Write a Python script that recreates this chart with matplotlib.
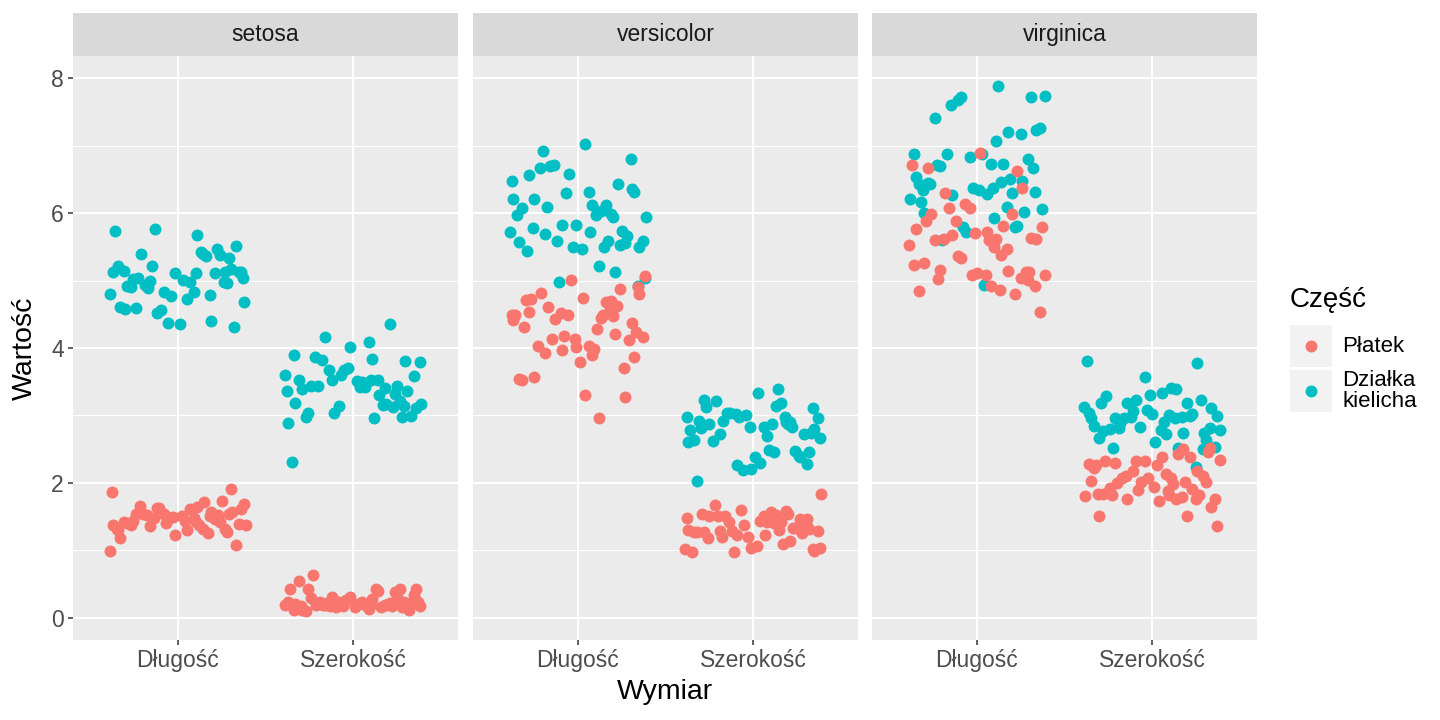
import numpy as np
import matplotlib.pyplot as plt
from matplotlib.patches import Rectangle

plt.rcParams['font.family'] = ['Liberation Sans', 'DejaVu Sans']

species = ['setosa', 'versicolor', 'virginica']
dims = ['Długość', 'Szerokość']
parts = ['Płatek', 'Działka\nkielicha']
colors = ['#F8766D', '#00BFC4']

# iris data, 50 rows per species
sepal_length = [
    5.1, 4.9, 4.7, 4.6, 5.0, 5.4, 4.6, 5.0, 4.4, 4.9, 5.4, 4.8, 4.8, 4.3, 5.8, 5.7, 5.4, 5.1, 5.7, 5.1,
    5.4, 5.1, 4.6, 5.1, 4.8, 5.0, 5.0, 5.2, 5.2, 4.7, 4.8, 5.4, 5.2, 5.5, 4.9, 5.0, 5.5, 4.9, 4.4, 5.1,
    5.0, 4.5, 4.4, 5.0, 5.1, 4.8, 5.1, 4.6, 5.3, 5.0,
    7.0, 6.4, 6.9, 5.5, 6.5, 5.7, 6.3, 4.9, 6.6, 5.2, 5.0, 5.9, 6.0, 6.1, 5.6, 6.7, 5.6, 5.8, 6.2, 5.6,
    5.9, 6.1, 6.3, 6.1, 6.4, 6.6, 6.8, 6.7, 6.0, 5.7, 5.5, 5.5, 5.8, 6.0, 5.4, 6.0, 6.7, 6.3, 5.6, 5.5,
    5.5, 6.1, 5.8, 5.0, 5.6, 5.7, 5.7, 6.2, 5.1, 5.7,
    6.3, 5.8, 7.1, 6.3, 6.5, 7.6, 4.9, 7.3, 6.7, 7.2, 6.5, 6.4, 6.8, 5.7, 5.8, 6.4, 6.5, 7.7, 7.7, 6.0,
    6.9, 5.6, 7.7, 6.3, 6.7, 7.2, 6.2, 6.1, 6.4, 7.2, 7.4, 7.9, 6.4, 6.3, 6.1, 7.7, 6.3, 6.4, 6.0, 6.9,
    6.7, 6.9, 5.8, 6.8, 6.7, 6.7, 6.3, 6.5, 6.2, 5.9]
sepal_width = [
    3.5, 3.0, 3.2, 3.1, 3.6, 3.9, 3.4, 3.4, 2.9, 3.1, 3.7, 3.4, 3.0, 3.0, 4.0, 4.4, 3.9, 3.5, 3.8, 3.8,
    3.4, 3.7, 3.6, 3.3, 3.4, 3.0, 3.4, 3.5, 3.4, 3.2, 3.1, 3.4, 4.1, 4.2, 3.1, 3.2, 3.5, 3.6, 3.0, 3.4,
    3.5, 2.3, 3.2, 3.5, 3.8, 3.0, 3.8, 3.2, 3.7, 3.3,
    3.2, 3.2, 3.1, 2.3, 2.8, 2.8, 3.3, 2.4, 2.9, 2.7, 2.0, 3.0, 2.2, 2.9, 2.9, 3.1, 3.0, 2.7, 2.2, 2.5,
    3.2, 2.8, 2.5, 2.8, 2.9, 3.0, 2.8, 3.0, 2.9, 2.6, 2.4, 2.4, 2.7, 2.7, 3.0, 3.4, 3.1, 2.3, 3.0, 2.5,
    2.6, 3.0, 2.6, 2.3, 2.7, 3.0, 2.9, 2.9, 2.5, 2.8,
    3.3, 2.7, 3.0, 2.9, 3.0, 3.0, 2.5, 2.9, 2.5, 3.6, 3.2, 2.7, 3.0, 2.5, 2.8, 3.2, 3.0, 3.8, 2.6, 2.2,
    3.2, 2.8, 2.8, 2.7, 3.3, 3.2, 2.8, 3.0, 2.8, 3.0, 2.8, 3.8, 2.8, 2.8, 2.6, 3.0, 3.4, 3.1, 3.0, 3.1,
    3.1, 3.1, 2.7, 3.2, 3.3, 3.0, 2.5, 3.0, 3.4, 3.0]
petal_length = [
    1.4, 1.4, 1.3, 1.5, 1.4, 1.7, 1.4, 1.5, 1.4, 1.5, 1.5, 1.6, 1.4, 1.1, 1.2, 1.5, 1.3, 1.4, 1.7, 1.5,
    1.7, 1.5, 1.0, 1.7, 1.9, 1.6, 1.6, 1.5, 1.4, 1.6, 1.6, 1.5, 1.5, 1.4, 1.5, 1.2, 1.3, 1.4, 1.3, 1.5,
    1.3, 1.3, 1.3, 1.6, 1.9, 1.4, 1.6, 1.4, 1.5, 1.4,
    4.7, 4.5, 4.9, 4.0, 4.6, 4.5, 4.7, 3.3, 4.6, 3.9, 3.5, 4.2, 4.0, 4.7, 3.6, 4.4, 4.5, 4.1, 4.5, 3.9,
    4.8, 4.0, 4.9, 4.7, 4.3, 4.4, 4.8, 5.0, 4.5, 3.5, 3.8, 3.7, 3.9, 5.1, 4.5, 4.5, 4.7, 4.4, 4.1, 4.0,
    4.4, 4.6, 4.0, 3.3, 4.2, 4.2, 4.2, 4.3, 3.0, 4.1,
    6.0, 5.1, 5.9, 5.6, 5.8, 6.6, 4.5, 6.3, 5.8, 6.1, 5.1, 5.3, 5.5, 5.0, 5.1, 5.3, 5.5, 6.7, 6.9, 5.0,
    5.7, 4.9, 6.7, 4.9, 5.7, 6.0, 4.8, 4.9, 5.6, 5.8, 6.1, 6.4, 5.6, 5.1, 5.6, 6.1, 5.6, 5.5, 4.8, 5.4,
    5.6, 5.1, 5.1, 5.9, 5.7, 5.2, 5.0, 5.2, 5.4, 5.1]
petal_width = [
    0.2, 0.2, 0.2, 0.2, 0.2, 0.4, 0.3, 0.2, 0.2, 0.1, 0.2, 0.2, 0.1, 0.1, 0.2, 0.4, 0.4, 0.3, 0.3, 0.3,
    0.2, 0.4, 0.2, 0.5, 0.2, 0.2, 0.4, 0.2, 0.2, 0.2, 0.2, 0.4, 0.1, 0.2, 0.2, 0.2, 0.2, 0.1, 0.2, 0.2,
    0.3, 0.3, 0.2, 0.6, 0.4, 0.3, 0.2, 0.2, 0.2, 0.2,
    1.4, 1.5, 1.5, 1.3, 1.5, 1.3, 1.6, 1.0, 1.3, 1.4, 1.0, 1.5, 1.0, 1.4, 1.3, 1.4, 1.5, 1.0, 1.5, 1.1,
    1.8, 1.3, 1.5, 1.2, 1.3, 1.4, 1.4, 1.7, 1.5, 1.0, 1.1, 1.0, 1.2, 1.6, 1.5, 1.6, 1.5, 1.3, 1.3, 1.3,
    1.2, 1.4, 1.2, 1.0, 1.3, 1.2, 1.3, 1.3, 1.1, 1.3,
    2.5, 1.9, 2.1, 1.8, 2.2, 2.1, 1.7, 1.8, 1.8, 2.5, 2.0, 1.9, 2.1, 2.0, 2.4, 2.3, 1.8, 2.2, 2.3, 1.5,
    2.3, 2.0, 2.0, 1.8, 2.1, 1.8, 1.8, 1.8, 2.1, 1.6, 1.9, 2.0, 2.2, 1.5, 1.4, 2.3, 2.4, 1.8, 1.8, 2.1,
    2.4, 2.3, 1.9, 2.3, 2.5, 2.3, 1.9, 2.0, 2.3, 1.8]

# horizontal jitter offsets
jit_a = [
    -0.31, 0.12, 0.27, -0.08, 0.35, -0.22, 0.04, 0.18, -0.37, 0.29,
    -0.14, 0.07, -0.26, 0.33, -0.02, 0.21, -0.34, 0.10, 0.38, -0.18,
    0.25, -0.05, -0.39, 0.15, -0.38, -0.11, 0.31, 0.02, -0.29, 0.19,
    0.36, -0.24, 0.09, -0.16, 0.23, -0.33, 0.14, -0.07, 0.28, -0.20,
    0.05, -0.35, 0.17, -0.12, 0.30, -0.27, 0.11, 0.39, -0.03, 0.24,
    0.16, -0.28, 0.34, -0.09, 0.22, -0.36, 0.03, 0.27, -0.17, 0.08,
    -0.32, 0.37, -0.01, 0.19, -0.25, 0.13, -0.38, 0.29, -0.06, 0.32,
    -0.21, 0.06, 0.24, -0.30, 0.11, -0.13, 0.35, -0.04, 0.20, -0.34,
    0.01, 0.26, -0.19, 0.38, -0.10, 0.14, -0.27, 0.31, -0.15, 0.09,
    -0.37, 0.18, -0.23, 0.04, 0.33, -0.08, 0.21, -0.31, 0.12, -0.02,
    -0.26, 0.30, -0.12, 0.07, -0.35, 0.23, 0.36, -0.18, 0.15, -0.04,
    0.28, -0.30, 0.10, -0.22, 0.39, -0.09, 0.17, -0.37, 0.02, 0.25,
    -0.14, 0.33, -0.28, 0.08, -0.01, 0.20, -0.33, 0.13, -0.19, 0.37,
    -0.07, 0.26, -0.24, 0.05, 0.31, -0.16, 0.11, -0.39, 0.22, -0.11,
    0.34, -0.03, 0.18, -0.29, 0.06, -0.21, 0.29, -0.36, 0.14, 0.00]
jit_b = [
    0.21, -0.17, 0.05, -0.33, 0.28, 0.13, -0.24, 0.37, -0.06, -0.29,
    0.16, -0.39, 0.09, 0.32, -0.13, -0.36, 0.24, -0.02, 0.11, 0.35,
    -0.21, 0.27, -0.10, -0.31, 0.18, 0.03, -0.26, 0.30, -0.15, 0.38,
    -0.08, 0.14, -0.34, 0.22, -0.19, 0.07, 0.33, -0.27, 0.01, -0.37,
    0.26, -0.12, 0.19, -0.23, 0.36, -0.04, 0.10, -0.30, 0.29, -0.16,
    0.04, 0.31, -0.20, 0.15, -0.38, 0.25, -0.07, 0.34, -0.28, 0.12,
    -0.11, 0.20, -0.35, 0.08, 0.37, -0.14, 0.27, -0.01, -0.25, 0.17,
    0.39, -0.32, 0.06, -0.18, 0.23, -0.05, 0.30, -0.22, 0.13, -0.39,
    0.02, 0.35, -0.09, 0.19, -0.29, 0.10, -0.16, 0.32, -0.34, 0.24,
    -0.03, 0.16, -0.26, 0.38, -0.12, 0.07, 0.28, -0.37, 0.21, -0.19,
    0.33, -0.08, 0.11, -0.31, 0.26, -0.15, 0.04, 0.36, -0.23, 0.18,
    -0.35, 0.09, 0.29, -0.06, 0.22, -0.27, 0.14, -0.11, 0.39, -0.30,
    0.03, -0.20, 0.31, -0.14, 0.08, 0.25, -0.38, 0.17, -0.02, 0.34,
    -0.24, 0.12, -0.33, 0.20, 0.37, -0.09, 0.06, -0.28, 0.27, -0.17,
    0.15, -0.36, 0.23, -0.04, 0.32, -0.21, 0.01, 0.19, -0.32, 0.10]
# small vertical jitter offsets
jit_y = [
    0.023, -0.031, 0.012, 0.038, -0.008, -0.036, 0.029, 0.004, -0.019, 0.033,
    -0.027, 0.015, 0.040, -0.014, 0.021, -0.039, 0.002, 0.027, -0.011, 0.018,
    0.035, -0.024, -0.006, 0.010, -0.033, 0.031, -0.038, 0.016, -0.001, -0.029,
    0.007, 0.037, -0.017, -0.035, 0.025, -0.012, 0.019, 0.001, -0.026, 0.034,
    -0.004, 0.013, -0.040, 0.028, 0.009, -0.021, 0.039, -0.030, -0.003, 0.020,
    -0.015, 0.032, 0.006, -0.037, 0.024, -0.010, 0.036, -0.023, 0.014, -0.002,
    0.030, -0.034, 0.011, 0.003, -0.028, 0.039, -0.016, 0.022, -0.007, -0.039,
    0.017, 0.026, -0.032, 0.008, -0.020, 0.034, -0.005, 0.013, -0.025, 0.037,
    -0.013, 0.005, 0.031, -0.036, 0.019, -0.009, 0.027, -0.022, 0.040, -0.018,
    0.010, -0.030, 0.024, -0.003, 0.036, -0.027, 0.002, 0.016, -0.038, 0.029,
    -0.011, 0.033, -0.019, 0.007, -0.035, 0.021, 0.038, -0.006, 0.012, -0.024,
    0.028, -0.040, 0.004, 0.018, -0.015, 0.035, -0.029, 0.009, -0.001, 0.031,
    -0.021, 0.014, -0.033, 0.025, 0.001, -0.012, 0.039, -0.037, 0.020, -0.008,
    0.034, -0.026, 0.006, -0.017, 0.030, -0.031, 0.011, 0.023, -0.004, -0.034,
    0.017, -0.023, 0.037, -0.010, 0.026, -0.039, 0.008, 0.032, -0.014, 0.015]

sl_ = np.array(sepal_length)
sw_ = np.array(sepal_width)
pl_ = np.array(petal_length)
pw_ = np.array(petal_width)
ja = np.array(jit_a)
jb = np.array(jit_b)
jy = np.array(jit_y)
jy2 = jy[::-1]

W, H = 1440, 720
fig = plt.figure(figsize=(W / 100, H / 100), dpi=100)

panel_left = [73, 473, 872]
panel_w = 385
panel_top, panel_bot, strip_top = 56, 640, 13

for k, sp in enumerate(species):
    s = slice(50 * k, 50 * k + 50)
    ax = fig.add_axes([panel_left[k] / W, 1 - panel_bot / H, panel_w / W, (panel_bot - panel_top) / H])
    ax.set_facecolor('#EBEBEB')
    for sp_ in ax.spines.values():
        sp_.set_visible(False)
    ax.set_axisbelow(True)
    ax.set_xlim(0.4, 2.6)
    ax.set_ylim(-0.33, 8.33)
    ax.set_yticks([0, 2, 4, 6, 8])
    ax.set_yticks([1, 3, 5, 7], minor=True)
    ax.set_xticks([1, 2])
    ax.set_xticklabels(dims)
    ax.grid(True, which='major', color='white', linewidth=1.5)
    ax.grid(True, which='minor', axis='y', color='white', linewidth=0.75)
    ax.tick_params(which='major', length=3.6, width=1.1, color='#333333',
                   labelcolor='#4D4D4D', labelsize=16.5, pad=3)
    ax.tick_params(which='minor', length=0)
    if k > 0:
        ax.tick_params(axis='y', which='major', length=0, labelleft=False)

    # sepal (teal) first, petal (red) on top
    ax.scatter(1 + jb[s], sl_[s] + jy2[s], s=74, color=colors[1], linewidths=0, zorder=3)
    ax.scatter(2 + ja[s], sw_[s] + jy[s], s=74, color=colors[1], linewidths=0, zorder=3)
    ax.scatter(1 + ja[s], pl_[s] + jy[s], s=74, color=colors[0], linewidths=0, zorder=3)
    ax.scatter(2 + jb[s], pw_[s] + jy2[s], s=74, color=colors[0], linewidths=0, zorder=3)

    # facet strip
    st = fig.add_axes([panel_left[k] / W, 1 - panel_top / H, panel_w / W, (panel_top - strip_top) / H])
    st.set_facecolor('#D9D9D9')
    st.set_xticks([])
    st.set_yticks([])
    for sp_ in st.spines.values():
        sp_.set_visible(False)
    st.text(0.5, 0.5, sp, ha='center', va='center', fontsize=16.5, color='#1A1A1A',
            transform=st.transAxes)

fig.text(25 / W, 1 - 348 / H, 'Wartość', rotation=90, ha='center', va='center', fontsize=20.5)
fig.text(665 / W, 1 - 692 / H, 'Wymiar', ha='center', va='center', fontsize=20.5)

# legend
lg = fig.add_axes([0, 0, 1, 1], facecolor='none')
lg.set_xlim(0, W)
lg.set_ylim(H, 0)
lg.axis('off')
lg.text(1290, 300, 'Część', ha='left', va='center', fontsize=20)
key_y = [346, 391]
for c, lab, y in zip(colors, parts, key_y):
    lg.add_patch(Rectangle((1290, y - 21), 42, 42, facecolor='#F2F2F2', edgecolor='none'))
    lg.scatter([1311], [y], s=74, color=c, linewidths=0)
    lg.text(1342, y, lab, ha='left', va='center', fontsize=16, linespacing=1.0)

fig.savefig('out.png', dpi=100)
